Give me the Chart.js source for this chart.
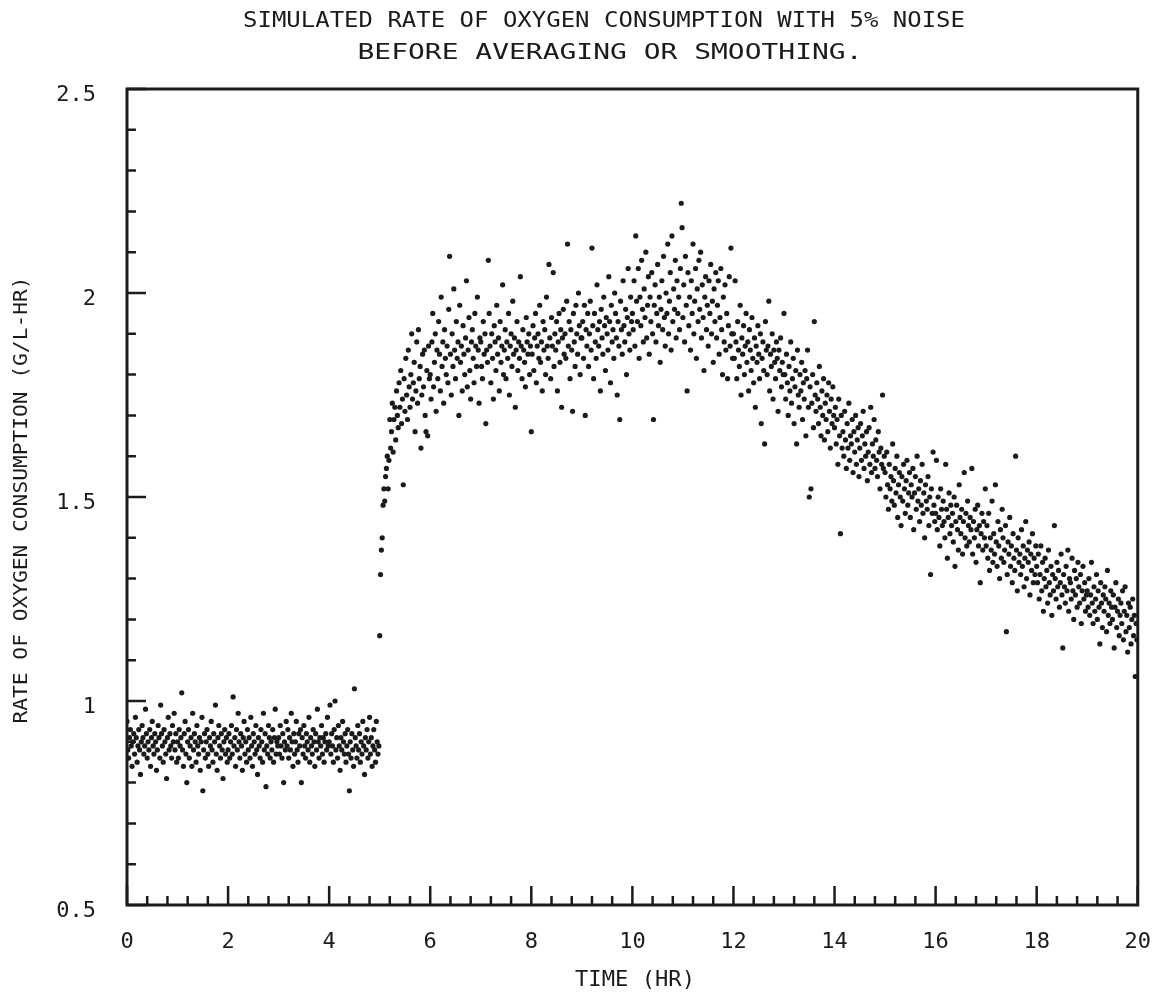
<!DOCTYPE html>
<html>
<head>
<meta charset="utf-8">
<title>Simulated rate of oxygen consumption</title>
<script src="https://cdn.jsdelivr.net/npm/chart.js@4.4.1/dist/chart.umd.min.js"></script>
<style>
  html, body { margin: 0; padding: 0; background: #fff; }
  canvas { display: block; }
</style>
</head>
<body>
<canvas id="o2Chart" width="1175" height="998"></canvas>
<script>
// one reading per minute, one array per hour of the run (G/L-HR)
const hr00 = [0.95,0.88,0.86,0.91,0.93,0.89,0.84,0.90,0.92,0.87, 0.96,0.91,0.85,0.89,0.93,0.88,0.82,0.90,0.94,0.91, 0.87,0.89,0.98,0.92,0.86,0.90,0.88,0.93,0.84,0.91, 0.95,0.89,0.87,0.92,0.90,0.83,0.88,0.94,0.91,0.86, 0.99,0.92,0.89,0.85,0.93,0.90,0.87,0.81,0.91,0.96, 0.88,0.92,0.89,0.86,0.94,0.90,0.97,0.88,0.92,0.85];
const hr01 = [0.90,0.86,0.93,0.89,0.91,1.02,0.88,0.84,0.92,0.95, 0.87,0.80,0.90,0.93,0.86,0.89,0.91,0.84,0.97,0.88, 0.92,0.90,0.85,0.94,0.89,0.87,0.91,0.83,0.90,0.96, 0.78,0.88,0.92,0.86,0.90,0.93,0.87,0.84,0.91,0.89, 0.95,0.88,0.85,0.92,0.90,0.99,0.87,0.83,0.91,0.94, 0.89,0.86,0.92,0.88,0.81,0.90,0.93,0.87,0.91,0.85];
const hr02 = [0.88,0.92,0.86,0.90,0.94,0.87,1.01,0.89,0.91,0.84, 0.93,0.88,0.97,0.90,0.86,0.92,0.89,0.83,0.91,0.95, 0.87,0.90,0.85,0.93,0.88,0.91,0.86,0.96,0.89,0.84, 0.92,0.90,0.87,0.94,0.88,0.82,0.91,0.89,0.86,0.93, 0.90,0.85,0.97,0.88,0.92,0.79,0.89,0.87,0.94,0.91, 0.86,0.90,0.88,0.93,0.85,0.91,0.98,0.87,0.90,0.89];
const hr03 = [0.91,0.87,0.94,0.89,0.86,0.92,0.80,0.90,0.88,0.95, 0.89,0.93,0.86,0.91,0.88,0.97,0.90,0.84,0.92,0.87, 0.90,0.95,0.88,0.85,0.92,0.89,0.93,0.80,0.91,0.87, 0.94,0.89,0.86,0.92,0.90,0.88,0.96,0.85,0.91,0.89, 0.87,0.93,0.90,0.84,0.92,0.88,0.98,0.90,0.86,0.91, 0.89,0.94,0.87,0.91,0.85,0.90,0.92,0.88,0.96,0.89];
const hr04 = [0.90,0.99,0.87,0.92,0.89,0.85,0.93,1.00,0.88,0.91, 0.86,0.94,0.89,0.83,0.91,0.88,0.95,0.90,0.87,0.92, 0.85,0.89,0.93,0.87,0.78,0.90,0.86,0.92,0.88,0.84, 1.03,0.91,0.89,0.86,0.94,0.88,0.92,0.85,0.90,0.87, 0.95,0.89,0.82,0.91,0.88,0.93,0.86,0.90,0.96,0.87, 0.91,0.84,0.89,0.93,0.88,0.85,0.95,0.90,0.87,0.89];
const hr05 = [1.16,1.31,1.37,1.40,1.48,1.52,1.49,1.55,1.57,1.60, 1.52,1.59,1.69,1.62,1.66,1.73,1.61,1.69,1.72,1.64, 1.76,1.70,1.67,1.78,1.72,1.81,1.68,1.74,1.53,1.79, 1.71,1.84,1.75,1.69,1.86,1.77,1.72,1.80,1.90,1.74, 1.78,1.83,1.66,1.76,1.88,1.73,1.91,1.79,1.82,1.62, 1.75,1.85,1.77,1.86,1.70,1.66,1.81,1.65,1.87,1.79];
const hr06 = [1.80,1.74,1.88,1.95,1.77,1.83,1.90,1.71,1.86,1.79, 1.93,1.85,1.76,1.99,1.82,1.88,1.73,1.91,1.84,1.80, 1.87,1.78,1.96,2.09,1.85,1.75,1.90,1.82,2.01,1.86, 1.79,1.93,1.84,1.88,1.70,1.97,1.83,1.87,1.76,1.92, 1.85,1.80,1.89,2.03,1.77,1.86,1.94,1.81,1.74,1.88, 1.91,1.84,1.78,1.95,1.87,1.82,1.99,1.86,1.73,1.89];
const hr07 = [1.88,1.82,1.79,1.93,1.85,1.90,1.68,1.86,1.83,2.08, 1.95,1.87,1.78,1.90,1.84,1.74,1.92,1.88,1.81,1.97, 1.85,1.89,1.76,1.93,1.83,1.87,2.02,1.80,1.86,1.91, 1.79,1.88,1.84,1.95,1.75,1.87,1.90,1.82,1.98,1.85, 1.89,1.72,1.86,1.93,1.81,1.88,1.84,2.04,1.87,1.79, 1.91,1.86,1.83,1.77,1.94,1.88,1.85,1.90,1.80,1.87];
const hr08 = [1.66,1.85,1.92,1.81,1.89,1.95,1.78,1.87,1.90,1.84, 1.97,1.83,1.88,1.76,1.93,1.86,1.91,1.80,1.99,1.87, 1.84,2.07,1.89,1.79,1.94,1.87,2.05,1.82,1.90,1.86, 1.93,1.76,1.88,1.95,1.83,1.91,1.72,1.89,1.96,1.85, 1.90,1.84,1.98,2.12,1.87,1.93,1.79,1.91,1.86,1.71, 1.95,1.88,1.82,1.97,1.90,1.85,2.00,1.92,1.80,1.89];
const hr09 = [1.89,1.93,1.84,1.97,1.70,1.91,1.87,1.95,1.82,1.90, 1.98,1.86,2.11,1.92,1.79,1.95,1.88,1.84,2.02,1.91, 1.87,1.93,1.76,1.96,1.89,1.85,1.99,1.92,1.81,1.94, 1.90,1.86,2.04,1.93,1.78,1.97,1.88,1.91,1.84,2.00, 1.95,1.89,1.75,1.93,1.87,1.69,1.98,1.91,1.85,2.03, 1.92,1.88,1.96,1.80,1.94,2.06,1.90,1.86,1.99,1.93];
const hr10 = [1.95,1.91,2.03,1.87,2.14,1.98,1.93,2.06,1.84,1.99, 1.92,2.08,1.96,1.88,2.01,1.94,2.10,1.89,1.97,2.04, 1.85,1.99,1.93,2.05,1.90,1.69,1.97,2.02,1.88,1.95, 2.07,1.92,1.99,1.83,1.96,2.03,1.91,2.09,1.94,1.87, 2.00,1.95,2.12,1.90,1.98,2.05,1.86,2.14,1.93,2.01, 1.96,2.08,1.89,2.03,1.95,1.99,1.91,2.06,2.22,2.16];
const hr11 = [1.94,2.02,1.88,2.09,1.97,1.76,2.05,1.92,1.99,1.86, 2.03,1.95,2.12,1.90,1.98,2.06,1.84,2.01,1.93,2.08, 1.96,2.10,1.89,2.02,1.94,1.81,1.99,2.04,1.91,1.97, 1.87,2.03,1.95,2.07,1.90,1.98,1.83,2.01,1.93,2.05, 1.89,1.97,2.03,1.85,1.94,2.06,1.91,1.80,1.99,1.88, 2.02,1.86,1.95,1.79,1.92,2.04,1.87,2.11,1.90,1.84];
const hr12 = [1.90,1.84,2.03,1.88,1.79,1.93,1.86,1.82,1.97,1.75, 1.89,1.85,1.92,1.80,1.87,1.95,1.83,1.88,1.76,1.91, 1.86,1.81,1.94,1.84,1.78,1.89,1.72,1.87,1.83,1.92, 1.85,1.79,1.90,1.68,1.84,1.88,1.81,1.63,1.93,1.86, 1.80,1.87,1.98,1.76,1.85,1.82,1.90,1.74,1.86,1.83, 1.79,1.88,1.84,1.71,1.86,1.81,1.89,1.77,1.83,1.80];
const hr13 = [1.95,1.80,1.74,1.85,1.78,1.70,1.82,1.76,1.88,1.73, 1.79,1.84,1.68,1.77,1.81,1.63,1.86,1.75,1.72,1.80, 1.76,1.83,1.69,1.78,1.74,1.81,1.65,1.79,1.86,1.72, 1.50,1.77,1.52,1.73,1.80,1.67,1.93,1.75,1.71,1.78, 1.74,1.68,1.82,1.72,1.65,1.76,1.70,1.79,1.64,1.73, 1.69,1.75,1.66,1.78,1.71,1.62,1.74,1.68,1.77,1.70];
const hr14 = [1.67,1.72,1.63,1.69,1.58,1.74,1.65,1.41,1.70,1.62, 1.66,1.60,1.71,1.64,1.57,1.68,1.62,1.73,1.59,1.65, 1.63,1.69,1.56,1.66,1.61,1.70,1.58,1.64,1.67,1.55, 1.62,1.68,1.59,1.65,1.71,1.57,1.63,1.60,1.66,1.54, 1.61,1.67,1.58,1.72,1.56,1.63,1.60,1.69,1.57,1.64, 1.59,1.55,1.66,1.61,1.52,1.62,1.58,1.75,1.57,1.60];
const hr15 = [1.56,1.50,1.61,1.53,1.47,1.58,1.52,1.55,1.49,1.63, 1.54,1.48,1.57,1.51,1.60,1.45,1.53,1.56,1.50,1.43, 1.55,1.49,1.58,1.52,1.46,1.54,1.59,1.48,1.51,1.56, 1.45,1.53,1.50,1.57,1.42,1.51,1.55,1.47,1.60,1.49, 1.52,1.44,1.54,1.48,1.58,1.46,1.51,1.40,1.53,1.49, 1.47,1.55,1.43,1.50,1.31,1.52,1.46,1.61,1.48,1.44];
const hr16 = [1.46,1.59,1.42,1.50,1.45,1.38,1.52,1.47,1.43,1.49, 1.44,1.40,1.58,1.47,1.35,1.45,1.51,1.41,1.48,1.43, 1.46,1.39,1.50,1.33,1.44,1.48,1.42,1.37,1.53,1.45, 1.41,1.47,1.36,1.44,1.56,1.40,1.46,1.38,1.49,1.43, 1.39,1.45,1.42,1.57,1.36,1.44,1.40,1.47,1.34,1.42, 1.48,1.38,1.43,1.29,1.41,1.46,1.37,1.44,1.40,1.52];
const hr17 = [1.38,1.43,1.35,1.46,1.32,1.40,1.37,1.49,1.34,1.41, 1.36,1.53,1.39,1.33,1.44,1.38,1.30,1.42,1.35,1.47, 1.40,1.34,1.37,1.43,1.17,1.31,1.39,1.36,1.45,1.33, 1.38,1.29,1.41,1.35,1.32,1.60,1.37,1.27,1.40,1.34, 1.36,1.31,1.42,1.33,1.38,1.28,1.35,1.44,1.30,1.37, 1.34,1.39,1.26,1.36,1.32,1.41,1.29,1.35,1.31,1.38];
const hr18 = [1.33,1.29,1.36,1.25,1.31,1.38,1.27,1.34,1.22,1.30, 1.35,1.28,1.32,1.24,1.37,1.29,1.26,1.33,1.21,1.31, 1.27,1.43,1.30,1.25,1.34,1.28,1.32,1.23,1.29,1.36, 1.26,1.13,1.31,1.28,1.24,1.33,1.27,1.37,1.22,1.30, 1.29,1.25,1.35,1.27,1.20,1.32,1.26,1.30,1.23,1.34, 1.28,1.24,1.31,1.19,1.27,1.33,1.25,1.29,1.22,1.26];
const hr19 = [1.27,1.23,1.30,1.21,1.26,1.34,1.24,1.19,1.28,1.22, 1.25,1.31,1.20,1.27,1.23,1.14,1.29,1.24,1.18,1.26, 1.22,1.28,1.25,1.17,1.32,1.21,1.24,1.19,1.27,1.23, 1.20,1.26,1.13,1.23,1.29,1.18,1.22,1.25,1.16,1.21, 1.24,1.19,1.27,1.15,1.22,1.28,1.17,1.21,1.12,1.24, 1.18,1.23,1.14,1.20,1.25,1.16,1.21,1.06,1.19,1.15];

const hourly = [hr00, hr01, hr02, hr03, hr04, hr05, hr06, hr07, hr08, hr09,
                hr10, hr11, hr12, hr13, hr14, hr15, hr16, hr17, hr18, hr19];

const titleLines = ["SIMULATED RATE OF OXYGEN CONSUMPTION WITH 5% NOISE", "BEFORE AVERAGING OR SMOOTHING."];
const xTitle = "TIME (HR)";
const yTitle = "RATE OF OXYGEN CONSUMPTION (G/L-HR)";

const INK = "#1b1b1b";
const FONT = "'DejaVu Sans Mono', 'Liberation Mono', monospace";

// time (hr) of each reading = hour + minute/60
const points = [];
hourly.forEach((vals, h) => {
  vals.forEach((v, i) => points.push({ x: h + i / vals.length, y: v }));
});

// text squeezed/stretched to a given width, like the plotter lettering
function fitText(ctx, text, cx, cy, width, size, angle) {
  ctx.save();
  ctx.font = size + "px " + FONT;
  ctx.textAlign = "center";
  ctx.textBaseline = "middle";
  ctx.translate(cx, cy);
  if (angle) ctx.rotate(angle);
  const w = ctx.measureText(text).width;
  ctx.scale(width / w, 1);
  ctx.fillText(text, 0, 0);
  ctx.restore();
}

const plotFrame = {
  id: "plotFrame",
  afterDraw(chart) {
    const { ctx, chartArea: a, scales: { x, y } } = chart;
    ctx.save();
    ctx.strokeStyle = INK;
    ctx.fillStyle = INK;
    ctx.lineWidth = 3;
    ctx.strokeRect(a.left, a.top, a.right - a.left, a.bottom - a.top);

    // inward tick marks: x every 0.4 hr, y every 0.1
    ctx.lineWidth = 2.5;
    ctx.beginPath();
    for (let k = 0; k <= 50; k++) {
      const px = x.getPixelForValue(k * 0.4);
      const len = k % 5 === 0 ? 19 : 9;
      ctx.moveTo(px, a.bottom);
      ctx.lineTo(px, a.bottom - len);
    }
    for (let k = 0; k <= 20; k++) {
      const py = y.getPixelForValue(0.5 + k * 0.1);
      const len = k % 5 === 0 ? 19 : 9;
      ctx.moveTo(a.left, py);
      ctx.lineTo(a.left + len, py);
    }
    ctx.stroke();

    fitText(ctx, titleLines[0], 604, 21, 722, 22);
    fitText(ctx, titleLines[1], 610, 53, 505, 22);
    fitText(ctx, xTitle, 635, 981, 120, 21);
    fitText(ctx, yTitle, 22, 500, 447, 20, -Math.PI / 2);
    ctx.restore();
  }
};

const config = {
  type: "scatter",
  data: {
    datasets: [{
      label: "O2 uptake rate",
      data: points,
      backgroundColor: INK,
      borderWidth: 0,
      pointRadius: 2.6,
      pointHoverRadius: 2.6
    }]
  },
  options: {
    responsive: false,
    animation: false,
    devicePixelRatio: 1,
    layout: { padding: { top: 89, right: 31, bottom: 0, left: 0 } },
    plugins: { legend: { display: false }, tooltip: { enabled: false }, title: { display: false } },
    scales: {
      x: {
        type: "linear",
        min: 0,
        max: 20,
        grid: { display: false, drawTicks: false },
        border: { display: false },
        ticks: { stepSize: 2, color: INK, padding: 24, maxRotation: 0,
                 font: { family: FONT, size: 22 } },
        afterFit(scale) { scale.height = 93; }
      },
      y: {
        type: "linear",
        min: 0.5,
        max: 2.5,
        grid: { display: false, drawTicks: false },
        border: { display: false },
        ticks: { stepSize: 0.5, color: INK, padding: 31, labelOffset: 6,
                 font: { family: FONT, size: 22 },
                 callback: (v) => String(Number(v.toFixed(1))) },
        afterFit(scale) { scale.width = 127; }
      }
    }
  },
  plugins: [plotFrame]
};

const myChart = new Chart(document.getElementById("o2Chart"), config);
</script>
</body>
</html>
